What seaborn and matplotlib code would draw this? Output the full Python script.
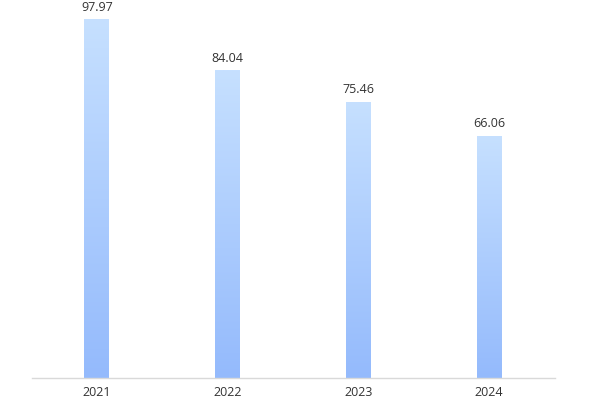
import matplotlib
matplotlib.use("Agg")
import matplotlib.pyplot as plt
import numpy as np
import pandas as pd
import seaborn as sns
from matplotlib.colors import LinearSegmentedColormap

years = ["2021", "2022", "2023", "2024"]
values = [97.97, 84.04, 75.46, 66.06]

sns.set_theme(style="white")
plt.rcParams["font.family"] = ["Open Sans", "DejaVu Sans"]

df = pd.DataFrame({"year": years, "value": values})

fig = plt.figure(figsize=(6, 4), dpi=100)
ax = fig.add_axes([0.0525, 0.055, 0.8717, 0.915])

sns.barplot(data=df, x="year", y="value", color="#B0D0FF", width=0.19,
            saturation=1, ax=ax)

# gradient fill, light on top, darker at the bottom
cmap = LinearSegmentedColormap.from_list("grad", ["#94BAFC", "#C6E0FF"])
grad = np.linspace(0, 1, 256).reshape(-1, 1)
for bar in ax.patches:
    x0, y0 = bar.get_x(), bar.get_y()
    w, h = bar.get_width(), bar.get_height()
    im = ax.imshow(grad, cmap=cmap, aspect="auto", origin="lower",
                   extent=[x0, x0 + w, y0, y0 + h], zorder=bar.get_zorder())
    im.set_clip_path(bar)
    bar.set_facecolor("none")
    bar.set_edgecolor("none")

for i, v in enumerate(values):
    ax.text(i, v + 1.6, f"{v:.2f}", ha="center", va="bottom",
            fontsize=9, color="#333333", clip_on=False)

ax.set_xlim(-0.5, 3.5)
ax.set_ylim(0, 100)
ax.set_xlabel("")
ax.set_ylabel("")
ax.set_yticks([])
ax.tick_params(axis="x", length=0, pad=6, labelsize=9, labelcolor="#333333")
for side in ["top", "right", "left"]:
    ax.spines[side].set_visible(False)
ax.spines["bottom"].set_color("#D9D9D9")
ax.spines["bottom"].set_linewidth(1)

fig.savefig("out.png", dpi=100)
